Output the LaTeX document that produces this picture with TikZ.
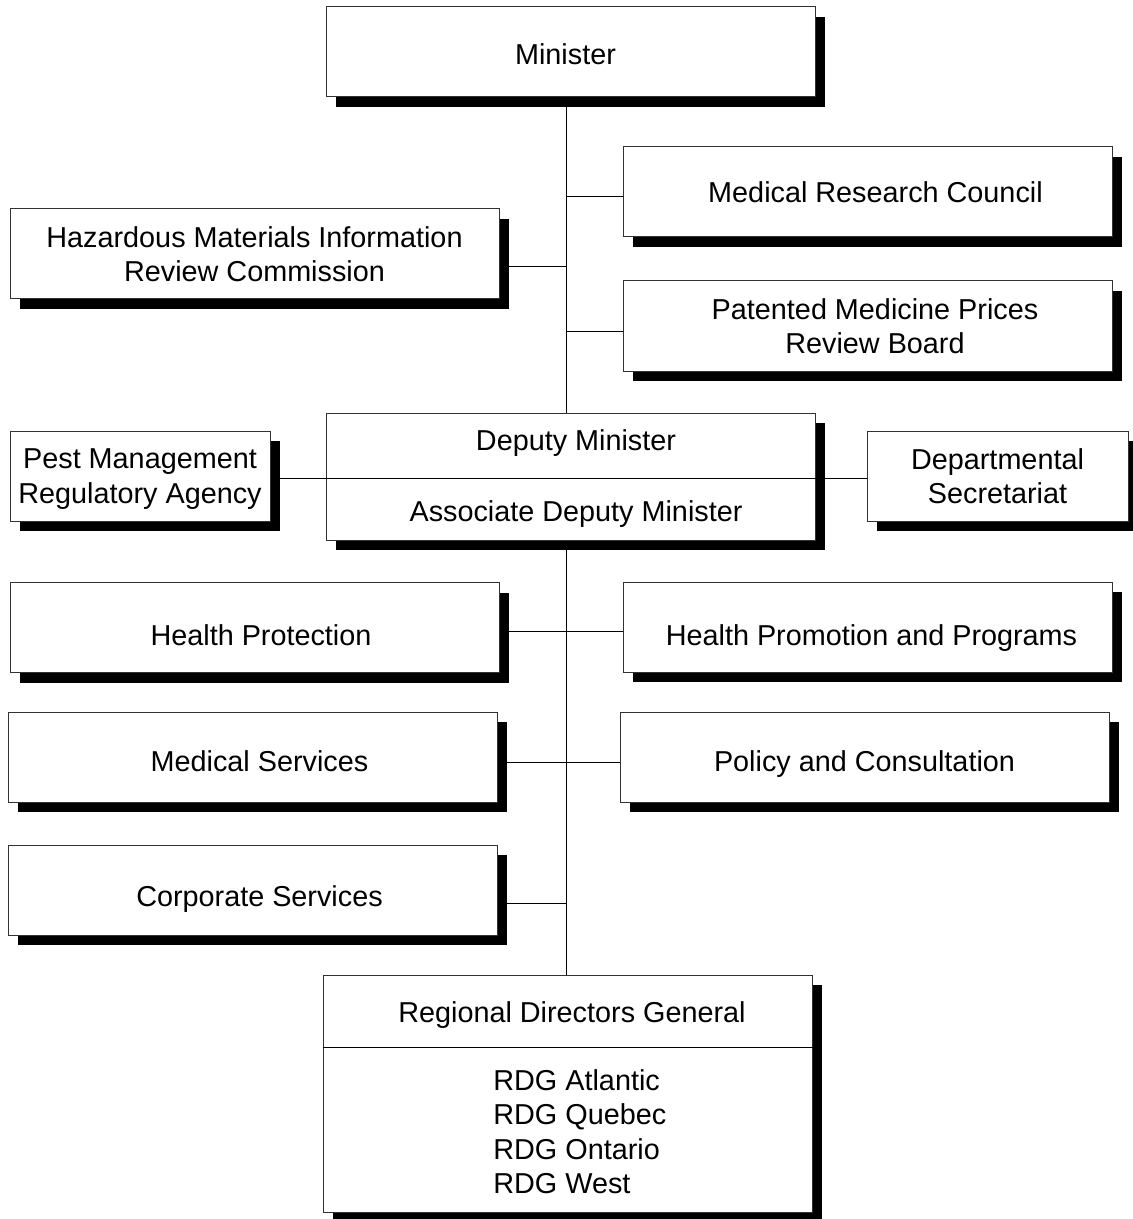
\documentclass[tikz,border=0pt]{standalone}
\usepackage{fontspec}
\setmainfont{Liberation Sans}
\usetikzlibrary{shadows,backgrounds}
\tikzset{
  unit/.style={draw=black!80, line width=0.5pt, fill=white, inner sep=0pt,
    minimum width=244.5pt, minimum height=45pt, align=center,
    font=\fontsize{14.4}{17.2}\selectfont,
    drop shadow={shadow xshift=5pt, shadow yshift=-5pt, fill=black, opacity=1}},
  base/.style={text height=#1, text depth=0pt},
  nudge/.style={execute at begin node=\hspace*{#1}},
  label text/.style={inner sep=0pt, align=center, font=\fontsize{14.4}{17.2}\selectfont},
  link/.style={draw=black, line width=0.5pt}
}
\begin{document}
\begin{tikzpicture}[x=0.5pt, y=-0.5pt]
  \useasboundingbox (0,0) rectangle (1133,1219);
  % Kaesten
  \node[unit, base=13pt, nudge=-5pt] (min) at (570.5,52) {Minister};
  \node[unit, base=11pt, nudge=8pt] (mrc) at (867.5,192) {Medical Research Council};
  \node[unit] (haz) at (254.5,254) {Hazardous Materials Information\\Review Commission};
  \node[unit, nudge=7.5pt] (pmp) at (867.5,326) {Patented Medicine Prices\\Review Board};
  \node[unit, minimum height=63.5pt] (dm) at (570.5,476.5) {};
  \node[label text] (dmtop) at (576,443) {Deputy Minister};
  \node[label text] (dmbot) at (576,514) {Associate Deputy Minister};
  \node[unit, minimum width=130pt, text depth=0pt] (pest) at (140,476) {Pest Management\\Regulatory Agency};
  \node[unit, minimum width=130.5pt] (dept) at (997.5,476) {Departmental\\Secretariat};
  \node[unit, base=17.5pt, nudge=6.5pt] (hp) at (254.5,627.5) {Health Protection};
  \node[unit, base=18pt, nudge=4pt] (hpp) at (867.5,627) {Health Promotion and Programs};
  \node[unit, base=14.5pt, nudge=7pt] (ms) at (252.5,757) {Medical Services};
  \node[unit, base=14.5pt] (pc) at (864.5,757) {Policy and Consultation};
  \node[unit, base=16.5pt, nudge=7pt] (cs) at (252.5,890) {Corporate Services};
  \node[unit, minimum height=118.5pt] (rdg) at (567.5,1093.5) {};
  \node[label text] (rdghead) at (572,1015) {Regional Directors General};
  \node[label text, align=left, anchor=west] (rdglist) at (493,1131.5)
    {RDG Atlantic\\RDG Quebec\\RDG Ontario\\RDG West};
  % Abzweigpunkte
  \coordinate (trunk) at (566,0);
  \coordinate (jmrc) at (566,197);
  \coordinate (jhaz) at (566,267);
  \coordinate (jpmp) at (566,332);
  \coordinate (jdm) at (566,478);
  \coordinate (jhp) at (566,631);
  \coordinate (jms) at (566,762);
  \coordinate (jcs) at (566,903);
  \coordinate (jrdg) at (567,1047);
  % Verbindungen
  \begin{scope}[on background layer]
    \draw[link] (min.south -| trunk) -- (rdg.north -| trunk);
    \draw[link] (jmrc) -- (jmrc -| mrc.west);
    \draw[link] (jhaz) -- (jhaz -| haz.east);
    \draw[link] (jpmp) -- (jpmp -| pmp.west);
    \draw[link] (jhp -| hp.east) -- (jhp -| hpp.west);
    \draw[link] (jms -| ms.east) -- (jms -| pc.west);
    \draw[link] (jcs) -- (jcs -| cs.east);
  \end{scope}
  \draw[link] (jdm -| pest.east) -- (jdm -| dept.west);
  \draw[link] (rdg.west |- jrdg) -- (rdg.east |- jrdg);
\end{tikzpicture}
\end{document}
